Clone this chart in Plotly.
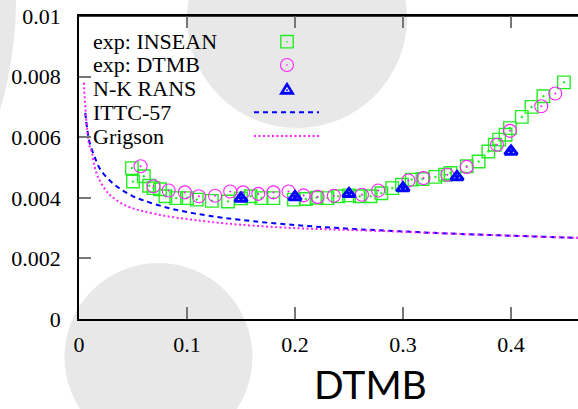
import plotly.graph_objects as go

# ---------------- data ----------------
insean_fr = [0.049, 0.050, 0.060, 0.065, 0.069, 0.075, 0.080, 0.090, 0.100, 0.109,
             0.123, 0.138, 0.150, 0.159, 0.169, 0.180, 0.199, 0.210, 0.220, 0.230,
             0.240, 0.250, 0.260, 0.270, 0.280, 0.290, 0.299, 0.308, 0.318, 0.330,
             0.339, 0.344, 0.359, 0.370, 0.379, 0.385, 0.389, 0.395, 0.399, 0.410,
             0.419, 0.430, 0.449]
insean_cf = [0.00498, 0.00454, 0.00471, 0.00440, 0.00432, 0.00428, 0.00405, 0.00399, 0.00399, 0.00394,
             0.00390, 0.00388, 0.00398, 0.00405, 0.00399, 0.00399, 0.00394, 0.00396, 0.00400, 0.00399,
             0.00405, 0.00408, 0.00405, 0.00405, 0.00415, 0.00432, 0.00443, 0.00460, 0.00462, 0.00469,
             0.00476, 0.00482, 0.00504, 0.00520, 0.00553, 0.00575, 0.00592, 0.00608, 0.00630, 0.00667,
             0.00700, 0.00735, 0.00781]

dtmb_fr = [0.057, 0.069, 0.083, 0.098, 0.111, 0.126, 0.140, 0.152, 0.166, 0.180,
           0.194, 0.208, 0.221, 0.236, 0.262, 0.277, 0.305, 0.319, 0.341, 0.359,
           0.387, 0.399, 0.428, 0.441]
dtmb_cf = [0.00504, 0.00438, 0.00424, 0.00418, 0.00405, 0.00407, 0.00421, 0.00418, 0.00413, 0.00418,
           0.00421, 0.00408, 0.00403, 0.00407, 0.00410, 0.00424, 0.00457, 0.00465, 0.00476, 0.00502,
           0.00575, 0.00621, 0.00702, 0.00744]

rans_fr = [0.15, 0.20, 0.25, 0.30, 0.35, 0.40]
rans_cf = [0.00398, 0.00403, 0.00413, 0.00432, 0.00469, 0.00553]

ittc_fr = [0.0058, 0.0075, 0.010, 0.015, 0.020, 0.030, 0.040, 0.050, 0.060, 0.080,
           0.100, 0.120, 0.150, 0.200, 0.250, 0.300, 0.350, 0.400, 0.450, 0.470]
ittc_cf = [0.00680, 0.00630, 0.00580, 0.00530, 0.00492, 0.00452, 0.00425, 0.00405, 0.00391, 0.00369,
           0.00353, 0.00341, 0.00327, 0.00310, 0.00298, 0.00289, 0.00281, 0.00275, 0.00269, 0.00267]

grig_fr = [0.0045, 0.006, 0.0075, 0.0086, 0.010, 0.012, 0.0135, 0.0167, 0.020, 0.025,
           0.030, 0.040, 0.050, 0.060, 0.080, 0.100, 0.120, 0.150, 0.200, 0.250,
           0.300, 0.350, 0.400, 0.450, 0.470]
grig_cf = [0.00780, 0.00690, 0.00630, 0.00590, 0.00568, 0.00548, 0.00518, 0.00476, 0.00452, 0.00424,
           0.00405, 0.00380, 0.00365, 0.00355, 0.00340, 0.00330, 0.00321, 0.00311, 0.00300, 0.00294,
           0.00288, 0.00281, 0.00275, 0.00269, 0.00267]

x_tickvals = [0, 0.1, 0.2, 0.3, 0.4]
x_ticktext = ["0", "0.1", "0.2", "0.3", "0.4"]
y_tickvals = [0, 0.002, 0.004, 0.006, 0.008, 0.01]
y_ticktext = ["0", "0.002", "0.004", "0.006", "0.008", "0.01"]
legend_labels = ["exp: INSEAN", "exp: DTMB", "N-K RANS", "ITTC-57", "Grigson"]
x_title = "DTMB"

# ---------------- layout helpers (page pixels; body margin removed) ----------------
W, H = 578, 409
ML, MT = 79, 16
PW, PH = 499, 303
MR = W - ML - PW
MB = H - MT - PH


def px(x):                   # page pixel -> paper x
    return (x - ML) / PW


def py(y):                   # page pixel -> paper y
    return (MT + PH - y) / PH


GREEN = "#22ee22"
MAGENTA = "#ff22ff"
BLUE = "#0000ff"
SERIF = "Liberation Serif"
TICKC = "#777"

fig = go.Figure()

fig.add_trace(go.Scatter(
    x=insean_fr, y=insean_cf, mode="markers", name=legend_labels[0],
    marker=dict(symbol="square-open-dot", size=12.5, color=GREEN,
                line=dict(width=1.4, color=GREEN))))
fig.add_trace(go.Scatter(
    x=dtmb_fr, y=dtmb_cf, mode="markers", name=legend_labels[1],
    marker=dict(symbol="circle-open-dot", size=13, color=MAGENTA,
                line=dict(width=1.1, color=MAGENTA))))
fig.add_trace(go.Scatter(
    x=rans_fr, y=rans_cf, mode="markers", name=legend_labels[2],
    marker=dict(symbol="triangle-up-open-dot", size=11, color=BLUE,
                line=dict(width=3, color=BLUE))))
fig.add_trace(go.Scatter(
    x=ittc_fr, y=ittc_cf, mode="lines", name=legend_labels[3],
    line=dict(color=BLUE, width=2, dash="5px,4px", shape="spline")))
fig.add_trace(go.Scatter(
    x=grig_fr, y=grig_cf, mode="lines", name=legend_labels[4],
    line=dict(color=MAGENTA, width=2, dash="2px,2.5px", shape="spline")))

shapes = []
# background grey discs (decoration of the source image)
for cx, cy, r in [(297, 18, 110), (158.5, 357, 94), (-370, 0, 386)]:
    shapes.append(dict(type="circle", xref="paper", yref="paper", layer="below",
                       x0=px(cx - r), x1=px(cx + r), y0=py(cy + r), y1=py(cy - r),
                       fillcolor="#e8e8e8", line=dict(width=0)))

# top frame line and its tick marks
shapes.append(dict(type="line", xref="paper", yref="paper", x0=0, x1=1, y0=1, y1=1,
                   line=dict(color="black", width=1.5)))
for tv in x_tickvals[1:]:
    shapes.append(dict(type="line", xref="x", yref="paper", ysizemode="pixel", yanchor=1,
                       x0=tv, x1=tv, y0=0, y1=-12, line=dict(color=TICKC, width=1.5)))

# legend keys (right of the labels)
row_y = [41.7, 65.0, 88.3, 112.3, 136.0]
key_x = 287
pix = dict(xref="paper", yref="paper", xsizemode="pixel", ysizemode="pixel")
shapes.append(dict(type="rect", xanchor=px(key_x), yanchor=py(row_y[0]),
                   x0=-6.2, x1=6.2, y0=-6.2, y1=6.2, line=dict(color=GREEN, width=1.4), **pix))
shapes.append(dict(type="rect", xanchor=px(key_x), yanchor=py(row_y[0]),
                   x0=-0.7, x1=0.7, y0=-0.7, y1=0.7, fillcolor=GREEN, line=dict(width=0), **pix))
shapes.append(dict(type="circle", xanchor=px(key_x), yanchor=py(row_y[1]),
                   x0=-6.5, x1=6.5, y0=-6.5, y1=6.5, line=dict(color=MAGENTA, width=1.1), **pix))
shapes.append(dict(type="rect", xanchor=px(key_x), yanchor=py(row_y[1]),
                   x0=-0.7, x1=0.7, y0=-0.7, y1=0.7, fillcolor=MAGENTA, line=dict(width=0), **pix))
shapes.append(dict(type="path", xanchor=px(key_x), yanchor=py(row_y[2]),
                   path="M-8,-6.5 L8,-6.5 L0,6.5 Z", fillcolor=BLUE, line=dict(width=0), **pix))
shapes.append(dict(type="path", xanchor=px(key_x), yanchor=py(row_y[2]),
                   path="M-3,-3.5 L3,-3.5 L0,1.5 Z", fillcolor="white", line=dict(width=0), **pix))
shapes.append(dict(type="rect", xanchor=px(key_x), yanchor=py(row_y[2]),
                   x0=-0.8, x1=0.8, y0=-2.6, y1=-1.0, fillcolor=BLUE, line=dict(width=0), **pix))
shapes.append(dict(type="line", xref="paper", yref="paper", x0=px(254), x1=px(319),
                   y0=py(row_y[3]), y1=py(row_y[3]), line=dict(color=BLUE, width=2, dash="5px,4px")))
shapes.append(dict(type="line", xref="paper", yref="paper", x0=px(254), x1=px(319),
                   y0=py(row_y[4]), y1=py(row_y[4]), line=dict(color=MAGENTA, width=2, dash="2px,2.5px")))

annotations = []
for lab, yy in zip(legend_labels, row_y):
    annotations.append(dict(text=lab, xref="paper", yref="paper", x=px(91), y=py(yy),
                            xanchor="left", yanchor="middle", showarrow=False,
                            font=dict(family=SERIF, size=22, color="black")))
annotations.append(dict(text=x_title, xref="paper", yref="paper", x=px(370), y=py(409),
                        xanchor="center", yanchor="bottom", showarrow=False,
                        font=dict(family="Lato", size=39, color="black")))

axis_common = dict(ticks="inside", ticklen=12, tickwidth=1.5, tickcolor=TICKC,
                   showline=True, linecolor="black", linewidth=1.5,
                   showgrid=False, zeroline=False, ticklabeloverflow="allow",
                   tickfont=dict(family=SERIF, size=22, color="black"))

fig.update_layout(
    width=W, height=H,
    margin=dict(l=ML, r=MR, t=MT, b=MB, pad=0, autoexpand=False),
    paper_bgcolor="white", plot_bgcolor="rgba(0,0,0,0)",
    showlegend=False,
    xaxis=dict(range=[0, PW / 1080.0], tickvals=x_tickvals, ticktext=x_ticktext,
               mirror="ticks", ticklabelstandoff=5, **axis_common),
    yaxis=dict(range=[0, 0.01], tickvals=y_tickvals, ticktext=y_ticktext,
               mirror=False, ticklabelstandoff=12, **axis_common),
    shapes=shapes, annotations=annotations,
)

fig.write_html("out.html", config={"displayModeBar": False},
               post_script="document.body.style.margin='0';document.body.style.overflow='hidden';")
